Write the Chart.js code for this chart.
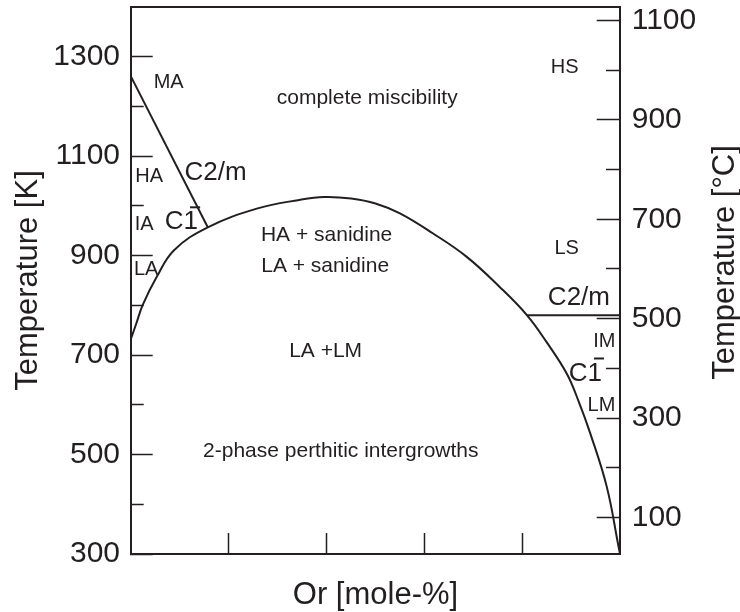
<!DOCTYPE html>
<html>
<head>
<meta charset="utf-8">
<script src="https://cdn.jsdelivr.net/npm/chart.js@4/dist/chart.umd.min.js"></script>
<style>
html,body{margin:0;padding:0;background:#fff;}
#wrap{width:740px;height:612px;position:relative;}
</style>
</head>
<body>
<div id="wrap"><canvas id="c" width="740" height="612"></canvas></div>
<script>
// ---- data ----
const solvusOr = [0, 1.1, 2.4, 5.3, 8.8, 15.7, 25.9, 34.4, 39.5, 45, 50, 55, 61.7, 68.6, 75.4, 81, 85, 89.1, 91.5, 93.9, 97.3, 99.7, 100];
const solvusK  = [733, 764, 801, 858, 911, 957, 995, 1012, 1018, 1015, 1005, 985, 945, 898, 837, 780, 726, 663, 608, 543, 435, 315, 300];
const maLineOr = [0, 15.7];
const maLineK  = [1260, 957];
const c2mLineOr = [81, 100];
const c2mLineK  = [780, 780];

const xTicks = [20, 40, 60, 80];
const kMajorTicks = [300, 500, 700, 900, 1100, 1300];
const kMinorTicks = [400, 600, 800, 1000, 1200];
const cMajorTicks = [100, 300, 500, 700, 900, 1100];
const cMinorTicks = [200, 400, 600, 800, 1000];
const K0 = 273.15;
const kMin = 300, kMax = 1400;

const labelText = ['MA', 'complete miscibility', 'HS', 'HA', 'C2/m', 'IA', 'C1\u0305', 'LA',
  'HA + sanidine', 'LA + sanidine', 'LS', 'C2/m', 'IM', 'C1\u0305', 'LM', 'LA +LM',
  '2-phase perthitic intergrowths'];
const labelOr = [7.7, 48.3, 88.7, 3.7, 17.3, 2.7, 10.3, 3.1, 40.0, 39.7, 89.1, 91.6, 96.8, 92.9, 96.2, 39.8, 42.9];
const labelK  = [1248, 1217, 1278, 1060, 1067, 962, 967, 873, 941, 878, 914, 816, 728, 663, 598, 707, 506];
const labelKind = ['s', 'm', 's', 's', 'b', 's', 'b', 's', 'm', 'm', 's', 'b', 's', 'b', 's', 'm', 'm'];

// ---- styling ----
const INK = '#231f20';
const FONT = "'Liberation Sans', Arial, Helvetica, sans-serif";
const kindSize = {s: 20, m: 21, b: 26};

const pts = (xs, ys) => xs.map((x, i) => ({x: x, y: ys[i]}));

const labelsPlugin = {
  id: 'phaseLabels',
  afterDraw(chart) {
    const ctx = chart.ctx;
    const xs = chart.scales.x, ys = chart.scales.yK;
    ctx.save();
    ctx.fillStyle = INK;
    ctx.strokeStyle = INK;
    ctx.textAlign = 'center';
    ctx.textBaseline = 'middle';
    labelText.forEach((t, i) => {
      const size = kindSize[labelKind[i]];
      ctx.font = size + 'px ' + FONT;
      const px = xs.getPixelForValue(labelOr[i]);
      const py = ys.getPixelForValue(labelK[i]);
      if (t.endsWith('\u0305')) {
        const base = t.slice(0, -1);
        ctx.fillText(base, px, py);
        const w = ctx.measureText(base).width;
        const pre = ctx.measureText(base.slice(0, -1)).width;
        const lw = ctx.measureText(base.slice(-1)).width;
        const left = px - w / 2 + pre;
        ctx.lineWidth = 2;
        ctx.beginPath();
        ctx.moveTo(left + 0.45 * lw, py - 15);
        ctx.lineTo(left + 1.15 * lw, py - 15);
        ctx.stroke();
      } else {
        ctx.fillText(t, px, py);
      }
    });
    // right axis title (reads bottom-to-top like the left one)
    const yc = chart.scales.yC;
    ctx.font = '31px ' + FONT;
    ctx.translate(chart.width - 15, (yc.top + yc.bottom) / 2 - 18);
    ctx.rotate(-Math.PI / 2);
    ctx.fillText('Temperature [\u00B0C]', 0, 0);
    ctx.restore();
  }
};

const lineDs = (data, extra) => Object.assign({
  data: data, showLine: true, pointRadius: 0, pointHoverRadius: 0,
  borderColor: INK, borderWidth: 2, fill: false,
  xAxisID: 'x', yAxisID: 'yK'
}, extra || {});

const vFit = w => s => { s.width = w; s.paddingTop = 0; s.paddingBottom = 0; };
const hFit = h => s => { s.height = h; s.paddingLeft = 0; s.paddingRight = 0; };

new Chart(document.getElementById('c'), {
  type: 'scatter',
  data: {
    datasets: [
      lineDs(pts(solvusOr, solvusK), {tension: 0.4}),
      lineDs(pts(maLineOr, maLineK)),
      lineDs(pts(c2mLineOr, c2mLineK))
    ]
  },
  options: {
    responsive: false,
    devicePixelRatio: 1,
    animation: false,
    events: [],
    layout: {padding: {top: 7, left: 0, right: 0, bottom: 0}},
    plugins: {legend: {display: false}, tooltip: {enabled: false}},
    scales: {
      x: {
        type: 'linear', position: 'bottom', min: 0, max: 100, weight: 0,
        afterBuildTicks: s => { s.ticks = xTicks.map(v => ({value: v})); },
        afterFit: hFit(58),
        ticks: {display: false},
        grid: {drawOnChartArea: false, drawTicks: true, tickLength: -21, tickColor: INK, tickWidth: 1.5},
        border: {display: true, color: INK, width: 2},
        title: {display: true, text: 'Or [mole-%]', color: INK,
          font: {family: FONT, size: 31, lineHeight: 1}, padding: {top: 0, bottom: 1}}
      },
      xTop: {
        type: 'linear', position: 'top', min: 0, max: 100, weight: 0,
        afterFit: hFit(0),
        ticks: {display: false},
        grid: {display: false, drawTicks: false},
        border: {display: true, color: INK, width: 2}
      },
      yK: {
        type: 'linear', position: 'left', min: kMin, max: kMax, weight: 1,
        afterBuildTicks: s => { s.ticks = kMajorTicks.map(v => ({value: v})); },
        afterFit: vFit(131),
        ticks: {color: INK, font: {family: FONT, size: 30}, padding: 32.7, autoSkip: false,
          callback: v => String(v)},
        grid: {drawOnChartArea: false, drawTicks: true, tickLength: -21.7, tickColor: INK, tickWidth: 1.5},
        border: {display: true, color: INK, width: 2},
        title: {display: true, text: 'Temperature [K]', color: INK,
          font: {family: FONT, size: 31, lineHeight: 1}, padding: {top: 13, bottom: 0}}
      },
      yKmin: {
        type: 'linear', position: 'left', min: kMin, max: kMax, weight: 0,
        afterBuildTicks: s => { s.ticks = kMinorTicks.map(v => ({value: v})); },
        afterFit: vFit(0),
        ticks: {display: false},
        grid: {drawOnChartArea: false, drawTicks: true, tickLength: -12.7, tickColor: INK, tickWidth: 1.5},
        border: {display: false}
      },
      yC: {
        type: 'linear', position: 'right', min: kMin - K0, max: kMax - K0, weight: 1,
        afterBuildTicks: s => { s.ticks = cMajorTicks.map(v => ({value: v})); },
        afterFit: vFit(120),
        ticks: {color: INK, font: {family: FONT, size: 30}, padding: 35, autoSkip: false,
          callback: v => String(v)},
        grid: {drawOnChartArea: false, drawTicks: true, tickLength: -23.3, tickColor: INK, tickWidth: 1.5},
        border: {display: true, color: INK, width: 2},
        title: {display: false}
      },
      yCmin: {
        type: 'linear', position: 'right', min: kMin - K0, max: kMax - K0, weight: 0,
        afterBuildTicks: s => { s.ticks = cMinorTicks.map(v => ({value: v})); },
        afterFit: vFit(0),
        ticks: {display: false},
        grid: {drawOnChartArea: false, drawTicks: true, tickLength: -14, tickColor: INK, tickWidth: 1.5},
        border: {display: false}
      }
    }
  },
  plugins: [labelsPlugin]
});
</script>
</body>
</html>
